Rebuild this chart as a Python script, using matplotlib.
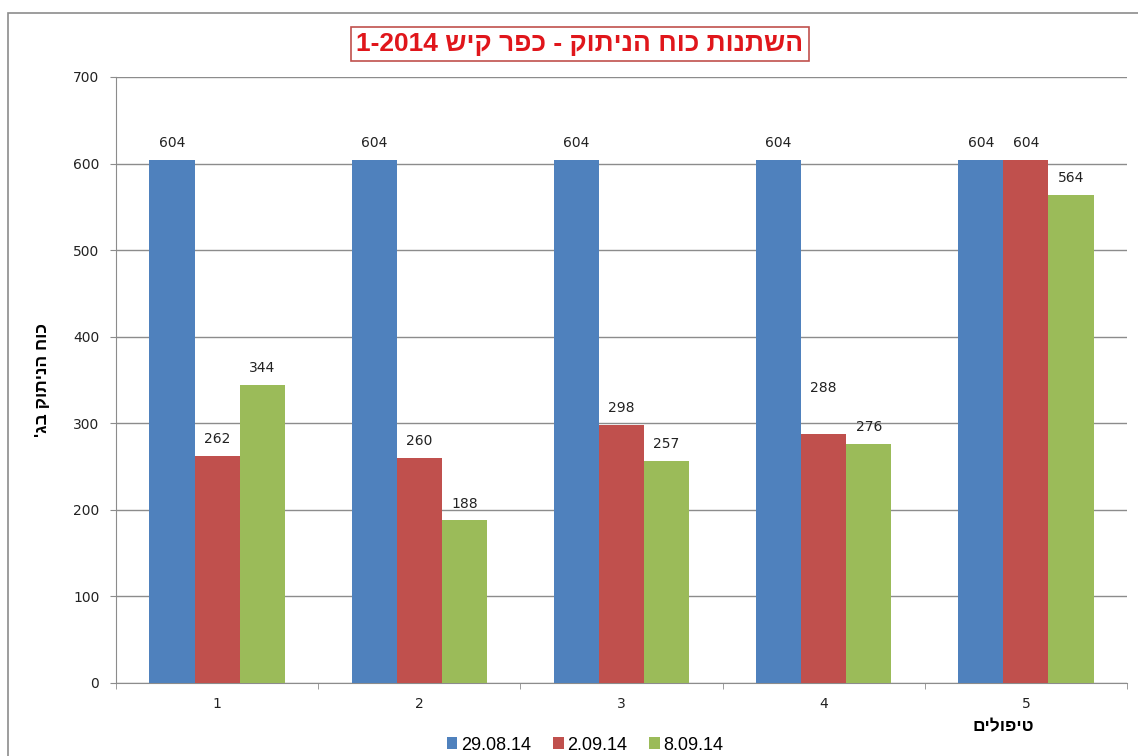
import matplotlib.pyplot as plt
import numpy as np
from matplotlib.patches import Rectangle

plt.rcParams['font.family'] = ['Liberation Sans', 'DejaVu Sans']

# data
treatments = ['1', '2', '3', '4', '5']
dates = ['29.08.14', '2.09.14', '8.09.14']
force_2908 = [604, 604, 604, 604, 604]
force_0209 = [262, 260, 298, 288, 604]
force_0809 = [344, 188, 257, 276, 564]

title_txt = 'השתנות כוח הניתוק - כפר קיש'
title_year = '1-2014'
ylabel_txt = "כוח הניתוק בג'"
xlabel_txt = 'טיפולים'

colors = ['#4F81BD', '#C0504D', '#9BBB59']
grid_col = '#8C8C8C'


def rtl(s):
    # matplotlib has no bidi, flip hebrew to visual order
    return s[::-1]


fig = plt.figure(figsize=(11.38, 7.56), dpi=100)
ax = fig.add_axes([116 / 1138, 73 / 756, 1011 / 1138, 606 / 756])

# outer chart frame
fig.patches.append(Rectangle((8 / 1138, -0.1), 1.2, 0.1 + (756 - 13) / 756,
                             transform=fig.transFigure, fill=False,
                             edgecolor='#8C8C8C', linewidth=1.2))

x = np.arange(len(treatments))
w = 0.223
series = [force_2908, force_0209, force_0809]
for k, (vals, col, lab) in enumerate(zip(series, colors, dates)):
    bars = ax.bar(x + (k - 1) * w, vals, width=w, color=col, label=lab, zorder=3)
    for i, b in enumerate(bars):
        dy = 7
        if k == 1 and i == 3:
            dy = 28  # this label sits way above its bar in the original
        ax.annotate(str(vals[i]), (b.get_x() + b.get_width() / 2, b.get_height()),
                    xytext=(0, dy), textcoords='offset points',
                    ha='center', va='bottom', fontsize=10, color='#222222',
                    family='DejaVu Sans')

ax.set_xlim(-0.5, 4.5)
ax.set_ylim(0, 700)
ax.set_yticks(range(0, 701, 100))
ax.yaxis.grid(True, color=grid_col, linewidth=1, zorder=0)
ax.set_axisbelow(True)

ax.set_xticks(x)
ax.set_xticklabels(treatments)
ax.set_xticks(np.arange(-0.5, 4.6, 1), minor=True)
ax.tick_params(axis='x', which='major', length=0, pad=10, labelsize=10, colors='#222222')
ax.tick_params(axis='x', which='minor', length=4, color=grid_col)
ax.tick_params(axis='y', length=4, color=grid_col, labelsize=10, labelcolor='#222222', pad=8)
for lbl in ax.get_xticklabels() + ax.get_yticklabels():
    lbl.set_family('DejaVu Sans')

for side in ['top', 'right']:
    ax.spines[side].set_visible(False)
for side in ['left', 'bottom']:
    ax.spines[side].set_color(grid_col)

fig.text(580 / 1138, 1 - 44 / 756, title_year + ' ' + rtl(title_txt),
         ha='center', va='center', fontsize=19, fontweight='bold', color='#E0161B',
         bbox=dict(boxstyle='square,pad=0.2', facecolor='white', edgecolor='#C0504D', linewidth=1.2))

fig.text(43 / 1138, 1 - 380 / 756, rtl(ylabel_txt), rotation=90,
         ha='center', va='center', fontsize=12.5, fontweight='bold')
fig.text(1003 / 1138, 1 - 727 / 756, rtl(xlabel_txt),
         ha='center', va='center', fontsize=12.5, fontweight='bold')

fig.legend(loc='center', bbox_to_anchor=(585 / 1138, 1 - 745 / 756), ncol=3,
           frameon=False, fontsize=13, handlelength=0.6, handleheight=0.6,
           handletextpad=0.2, columnspacing=1.2, borderpad=0)

fig.savefig('out.png', dpi=100)
